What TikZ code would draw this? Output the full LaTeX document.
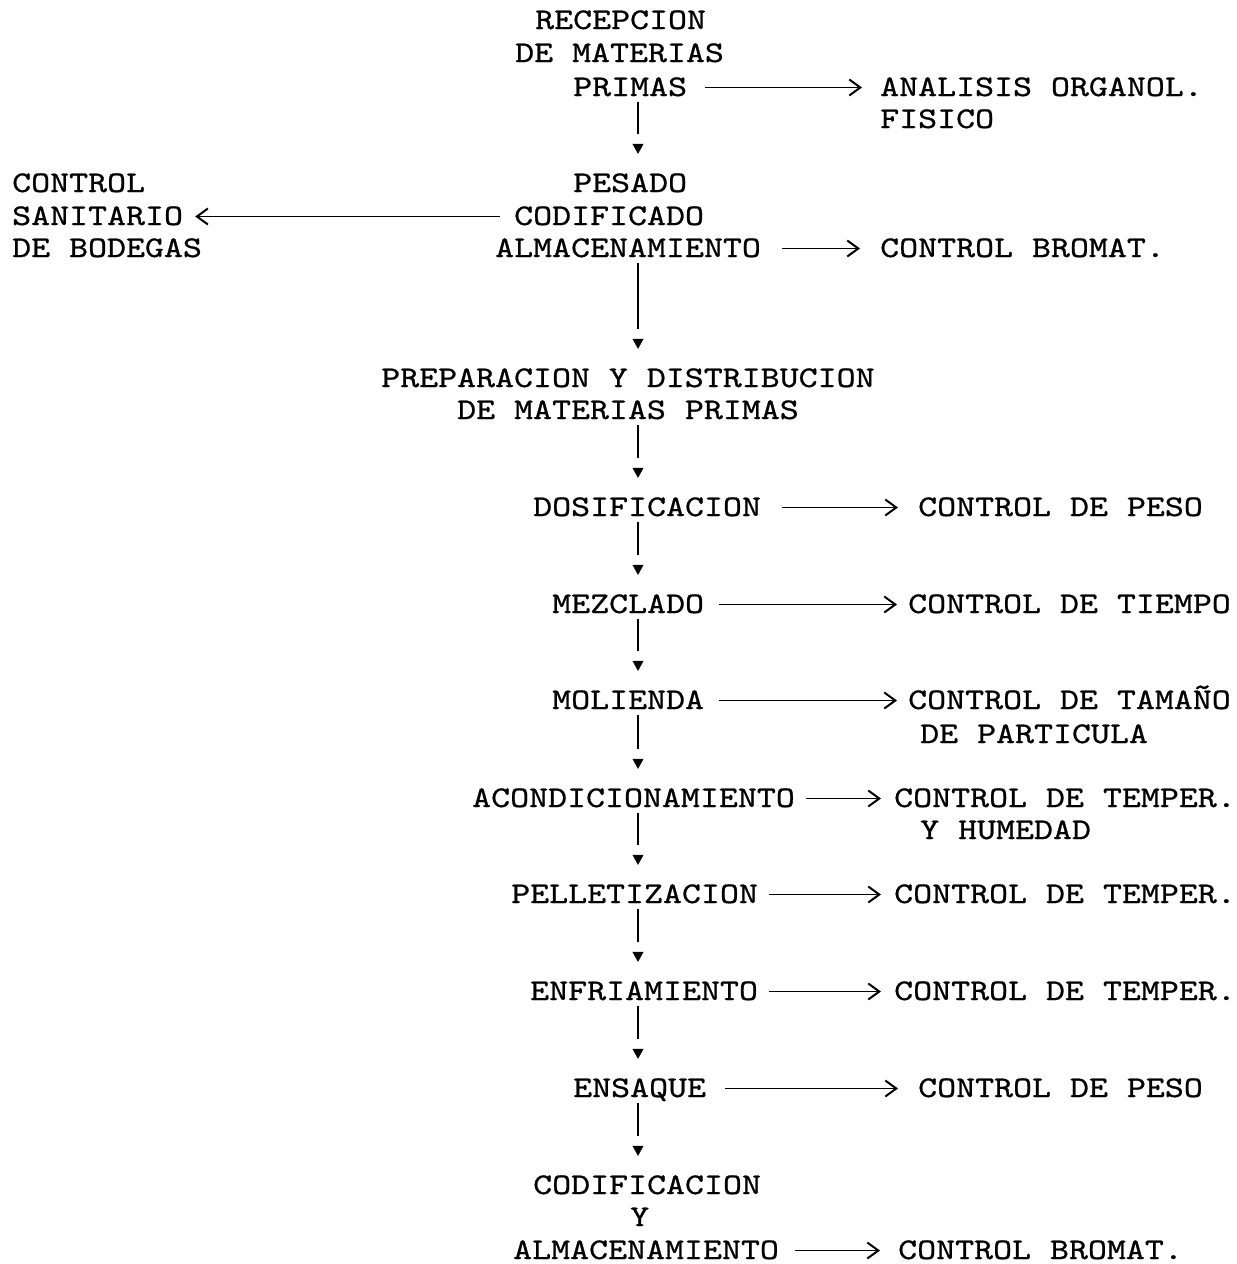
\documentclass[tikz,border=0pt]{standalone}
\usepackage{fontspec}
\usetikzlibrary{arrows.meta}
\newfontfamily\twfont{lmmono10-regular.otf}[FakeStretch=1.205,FakeBold=0.8]
\newcommand\vlink[2]{%
  \draw[vline] (#1.south -| col) -- ([yshift=40.5pt]#2.north -| col);
  \draw[vtip] ([yshift=31pt]#2.north -| col) -- ([yshift=21pt]#2.north -| col);}
\begin{document}
\begin{tikzpicture}[x=1pt,y=-1pt,
  txt/.style={anchor=base west, inner sep=0pt, text height=17pt, text depth=0pt,
    font=\twfont\fontsize{30}{33}\selectfont},
  vline/.style={line width=1.2pt, shorten <=6pt},
  vtip/.style={line width=0.4pt, -{Triangle[length=10pt,width=11pt]}},
  harrow/.style={line width=1.3pt,
    -{Straight Barb[length=11pt,width=16pt,line width=2pt]}}]
\fill[white] (0,0) rectangle (1237,1264);
\useasboundingbox (0,0) rectangle (1237,1264);
\coordinate (col) at (638,0);
% main column
\node[txt] (r1) at (535,29) {RECEPCION};
\node[txt] (r2) at (515,62) {DE MATERIAS};
\node[txt] (r3) at (573,96) {PRIMAS};
\node[txt] (a1) at (880,96) {ANALISIS ORGANOL.};
\node[txt] (a2) at (880,128) {FISICO};
\node[txt] (s1) at (12,192) {CONTROL};
\node[txt] (s2) at (12,225) {SANITARIO};
\node[txt] (s3) at (12,257) {DE BODEGAS};
\node[txt] (p1) at (573,192) {PESADO};
\node[txt] (p2) at (514,225) {CODIFICADO};
\node[txt] (p3) at (495,257) {ALMACENAMIENTO};
\node[txt] (b1) at (880,257) {CONTROL BROMAT.};
\node[txt] (d1) at (381,387) {PREPARACION Y DISTRIBUCION};
\node[txt] (d2) at (457,419) {DE MATERIAS PRIMAS};
\node[txt] (q1) at (533,516) {DOSIFICACION};
\node[txt] (q1c) at (918,516) {CONTROL DE PESO};
\node[txt] (m1) at (552,613) {MEZCLADO};
\node[txt] (m1c) at (908,613) {CONTROL DE TIEMPO};
\node[txt] (l1) at (552,709) {MOLIENDA};
\node[txt] (l1c) at (908,709) {CONTROL DE TAMAÑO};
\node[txt] (l2c) at (920,743) {DE PARTICULA};
\node[txt] (c1) at (472,807) {ACONDICIONAMIENTO};
\node[txt] (c1c) at (894,807) {CONTROL DE TEMPER.};
\node[txt] (c2c) at (920,839) {Y HUMEDAD};
\node[txt] (e1) at (511,903) {PELLETIZACION};
\node[txt] (e1c) at (894,903) {CONTROL DE TEMPER.};
\node[txt] (f1) at (530,1000) {ENFRIAMIENTO};
\node[txt] (f1c) at (894,1000) {CONTROL DE TEMPER.};
\node[txt] (g1) at (573,1097) {ENSAQUE};
\node[txt] (g1c) at (918,1097) {CONTROL DE PESO};
\node[txt] (h1) at (533,1194) {CODIFICACION};
\node[txt] (h2) at (630,1226) {Y};
\node[txt] (h3) at (513,1259) {ALMACENAMIENTO};
\node[txt] (h3c) at (898,1259) {CONTROL BROMAT.};
% vertical connectors
\vlink{r3}{p1}
\vlink{p3}{d1}
\vlink{d2}{q1}
\vlink{q1}{m1}
\vlink{m1}{l1}
\vlink{l1}{c1}
\vlink{c1}{e1}
\vlink{e1}{f1}
\vlink{f1}{g1}
\vlink{g1}{h1}
% horizontal connectors
\draw[harrow, shorten <=18pt, shorten >=18pt] (r3.east) -- (a1.west);
\draw[harrow, shorten <=14pt, shorten >=12pt] (p2.west) -- (s2.east);
\draw[harrow, shorten <=21pt, shorten >=20pt] (p3.east) -- (b1.west);
\draw[harrow, shorten <=21pt, shorten >=20pt] (q1.east) -- (q1c.west);
\draw[harrow, shorten <=15pt, shorten >=11pt] (m1.east) -- (m1c.west);
\draw[harrow, shorten <=15pt, shorten >=11pt] (l1.east) -- (l1c.west);
\draw[harrow, shorten <=11pt, shorten >=13pt] (c1.east) -- (c1c.west);
\draw[harrow, shorten <=11pt, shorten >=13pt] (e1.east) -- (e1c.west);
\draw[harrow, shorten <=11pt, shorten >=13pt] (f1.east) -- (f1c.west);
\draw[harrow, shorten <=19pt, shorten >=20pt] (g1.east) -- (g1c.west);
\draw[harrow, shorten <=16pt, shorten >=18pt] (h3.east) -- (h3c.west);
\end{tikzpicture}
\end{document}
